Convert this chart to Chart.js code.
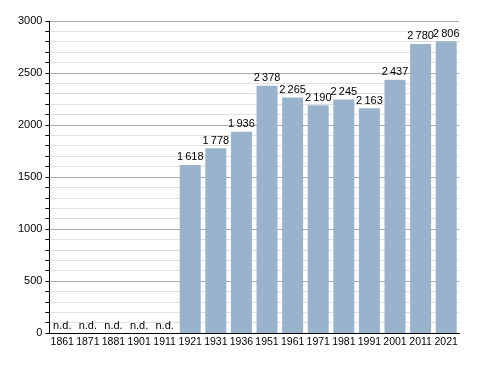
<!DOCTYPE html>
<html>
<head>
<meta charset="utf-8">
<script src="https://cdn.jsdelivr.net/npm/chart.js@4/dist/chart.umd.min.js"></script>
<style>
  body { margin: 0; background: #fff; }
  #box { width: 488px; height: 373px; }
</style>
</head>
<body>
<div id="box"><canvas id="grafico"></canvas></div>
<script>
const anni = ['1861', '1871', '1881', '1901', '1911', '1921', '1931', '1936', '1951', '1961', '1971', '1981', '1991', '2001', '2011', '2021']
const abitanti = [null, null, null, null, null, 1618, 1778, 1936, 2378, 2265, 2190, 2245, 2163, 2437, 2780, 2806]
const etichette = ['n.d.', 'n.d.', 'n.d.', 'n.d.', 'n.d.', '1\u2009618', '1\u2009778', '1\u2009936', '2\u2009378', '2\u2009265', '2\u2009190', '2\u2009245', '2\u2009163', '2\u2009437', '2\u2009780', '2\u2009806']

const font = 'Liberation Sans, Arial, sans-serif'

// scrive i valori sopra le barre (o n.d. se manca il dato)
const valoriSopra = {
    id: 'valoriSopra',
    afterDatasetsDraw(chart) {
        const ctx = chart.ctx
        const meta = chart.getDatasetMeta(0)
        const y0 = chart.scales.y.getPixelForValue(0)
        ctx.save()
        ctx.fillStyle = '#000'
        ctx.font = '11px ' + font
        ctx.textAlign = 'center'
        ctx.textBaseline = 'bottom'
        meta.data.forEach((bar, i) => {
            let y = abitanti[i] == null ? y0 - 2 : bar.y - 2
            ctx.fillText(etichette[i], bar.x, y)
        })
        ctx.restore()
    }
}

new Chart(document.getElementById('grafico'), {
    type: 'bar',
    data: {
        labels: anni,
        datasets: [{
            data: abitanti,
            backgroundColor: '#99b3cc',
            categoryPercentage: 0.82,
            barPercentage: 1
        }]
    },
    options: {
        responsive: true,
        maintainAspectRatio: false,
        animation: false,
        layout: { padding: { top: 21, right: 29, left: 15, bottom: 23 } },
        plugins: {
            legend: { display: false },
            tooltip: { enabled: false }
        },
        scales: {
            x: {
                grid: { display: false, drawTicks: false },
                border: { color: '#000', width: 1 },
                ticks: { color: '#000', font: { family: font, size: 10.5 }, maxRotation: 0, autoSkip: false, padding: 2 }
            },
            y: {
                min: 0,
                max: 3000,
                border: { color: '#000', width: 1 },
                grid: {
                    color: (c) => c.tick.value % 500 === 0 ? '#aaaaaa' : '#e0e0e0',
                    tickColor: '#000',
                    tickLength: 4
                },
                ticks: {
                    stepSize: 100,
                    autoSkip: false,
                    color: '#000',
                    padding: 3,
                    font: { family: font, size: 11 },
                    callback: (v) => v % 500 === 0 ? v : ''
                }
            }
        }
    },
    plugins: [valoriSopra]
})
</script>
</body>
</html>
